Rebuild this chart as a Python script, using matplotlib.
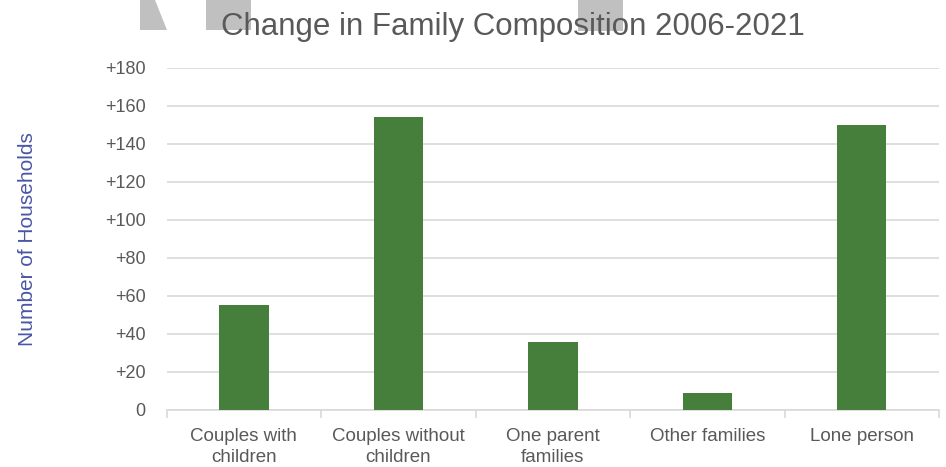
import matplotlib.pyplot as plt
from matplotlib.patches import Polygon, Rectangle

categories = ["Couples with\nchildren", "Couples without\nchildren", "One parent\nfamilies",
              "Other families", "Lone person"]
values = [55, 154, 36, 9, 150]
yticks = [0, 20, 40, 60, 80, 100, 120, 140, 160, 180]
ytick_labels = ["0"] + ["+{}".format(t) for t in yticks[1:]]

plt.rcParams['font.family'] = ['Liberation Sans', 'DejaVu Sans']
grey_txt = "#595959"

fig = plt.figure(figsize=(9.46, 4.67), dpi=100)
W, H = 946, 467

# grey decoration shapes at the top (figure pixel coords)
def px(x, y):
    return (x / W, 1 - y / H)

shapes = [
    Polygon([px(140, 0), px(155, 0), px(167, 30), px(140, 30)], closed=True),
    Rectangle(px(206, 30), 45 / W, 30 / H),
    Rectangle(px(578, 31), 45 / W, 31 / H),
]
for s in shapes:
    s.set_transform(fig.transFigure)
    s.set_facecolor("#c0c0c0")
    s.set_edgecolor("none")
    fig.patches.append(s)

ax = fig.add_axes([166.7 / W, 1 - 410 / H, (939 - 166.7) / W, (410 - 67.7) / H])

x = range(len(categories))
ax.bar(x, values, width=0.32, color="#467F3C", zorder=3)

ax.set_xlim(-0.5, len(categories) - 0.5)
ax.set_ylim(0, 180)
ax.set_yticks(yticks)
ax.set_yticklabels(ytick_labels)
ax.yaxis.grid(True, color="#d9d9d9", linewidth=1.2, zorder=0)
ax.tick_params(axis="y", length=0, pad=15, labelsize=13, labelcolor=grey_txt)

# category labels centred, ticks on the boundaries
ax.set_xticks(list(x))
ax.set_xticklabels(categories, linespacing=1.3)
ax.tick_params(axis="x", length=0, pad=13, labelsize=13.5, labelcolor=grey_txt)
ax.set_xticks([i - 0.5 for i in range(len(categories) + 1)], minor=True)
ax.tick_params(axis="x", which="minor", length=6, color="#d9d9d9", width=1.2)

for side in ["top", "right", "left"]:
    ax.spines[side].set_visible(False)
ax.spines["bottom"].set_color("#d9d9d9")
ax.spines["bottom"].set_linewidth(1.2)

ax.set_ylabel("Number of Households", color="#4a56a6", fontsize=15)
ax.yaxis.set_label_coords((37 - 166.7) / 772.3, 0.5)

fig.text(513 / W, 1 - 35 / H, "Change in Family Composition 2006-2021",
         ha="center", va="baseline", fontsize=22.5, color=grey_txt)

fig.savefig("out.png", dpi=100)
